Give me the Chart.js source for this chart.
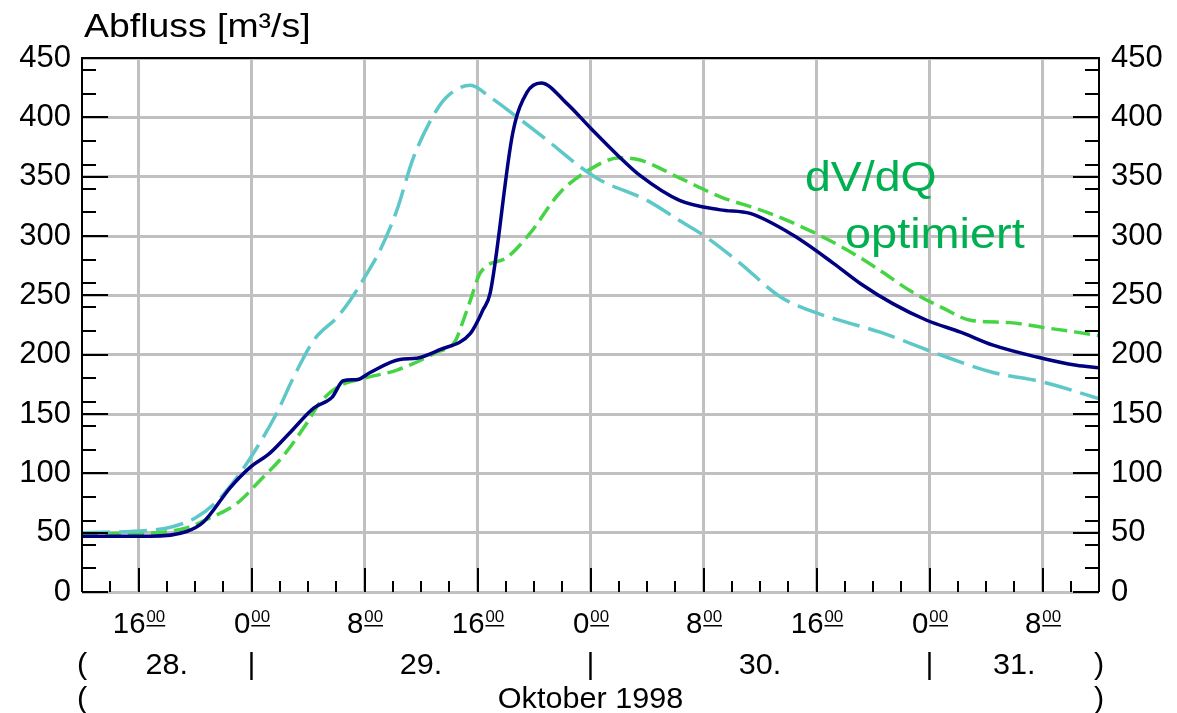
<!DOCTYPE html>
<html><head><meta charset="utf-8">
<script src="https://cdn.jsdelivr.net/npm/chart.js@4/dist/chart.umd.min.js"></script>
<style>html,body{margin:0;padding:0;background:#fff;overflow:hidden}</style>
</head><body>
<canvas id="c" width="1177" height="713"></canvas>
<script>
// hours after 28.10.1998 12:00
const obsHours = [0, 4.8, 7.4, 8.6, 10.5, 11.9, 13.3, 14.7, 16.4, 17.7, 18.5, 19.5, 20.4, 22.5, 23.7, 25.3, 27.5, 28.4, 28.9, 30.5, 31.5, 32.5, 34.3, 36.0, 38.1, 39.5, 42.3, 45.2, 47.3, 50.3, 53.2, 55.1, 57.4, 59.8, 62.2, 64.5, 67.6, 70.4, 72];
const obsFlow  = [47, 47, 51, 59, 88, 105, 117, 134, 155, 164, 178, 179, 185, 196, 197, 204, 218, 238, 252, 387, 421, 429, 412, 391, 366, 351, 330, 322, 319, 301, 277, 260, 243, 229, 219, 208, 198, 191, 189];
const cyanHours = [0, 4.8, 6.4, 8.1, 9.6, 11.0, 12.4, 13.8, 14.9, 16.4, 18.1, 19.0, 19.9, 21.1, 22.3, 23.4, 24.8, 25.8, 27.5, 28.9, 30.5, 32.9, 35.3, 36.7, 40.0, 42.3, 44.2, 46.6, 49.4, 51.8, 54.2, 56.5, 60.5, 64.5, 68.0, 72];
const cyanFlow  = [50, 52, 55, 63, 77, 97, 122, 151, 179, 212, 232, 246, 263, 288, 322, 364, 400, 417, 427, 417, 403, 381, 358, 347, 330, 313, 299, 277, 249, 236, 227, 219, 201, 185, 177, 163];
const greenHours = [0, 5.3, 7.4, 8.8, 11.0, 12.6, 14.2, 15.9, 16.8, 18.3, 19.9, 22.3, 25.1, 26.4, 27.0, 27.5, 28.2, 30.1, 31.7, 33.8, 35.8, 38.1, 39.5, 42.3, 45.2, 48.5, 51.8, 54.2, 56.5, 58.6, 61.0, 62.9, 65.7, 68.0, 70.4, 72];
const greenFlow  = [49, 50, 54, 61, 75, 94, 114, 142, 159, 174, 180, 187, 202, 211, 229, 246, 269, 282, 302, 336, 355, 366, 364, 349, 333, 320, 303, 288, 271, 254, 239, 229, 227, 223, 219, 216];

const majorHours = [4, 12, 20, 28, 36, 44, 52, 60, 68];
const hourLabels = ['16', '0', '8', '16', '0', '8', '16', '0', '8'];
const minorHours = [0,2,4,6,8,10,12,14,16,18,20,22,24,26,28,30,32,34,36,38,40,42,44,46,48,50,52,54,56,58,60,62,64,66,68,70,72];
const dayHours = [6, 24, 48, 66];
const dayLabels = ['28.', '29.', '30.', '31.'];
const dayBreaks = [12, 36, 60];
const yMajor = [0, 50, 100, 150, 200, 250, 300, 350, 400, 450];
const yMinor = [20, 40, 60, 80, 120, 140, 160, 180, 220, 240, 260, 280, 320, 340, 360, 380, 420, 440];

const FONT = '"Liberation Sans", Arial, sans-serif';
function pts(h, v) { return h.map((x, i) => ({x: x, y: v[i]})); }

function txt(ctx, s, x, y, size, align, color, sx) {
  ctx.save();
  ctx.font = size + 'px ' + FONT;
  ctx.fillStyle = color;
  ctx.textBaseline = 'alphabetic';
  ctx.textAlign = 'left';
  const w = ctx.measureText(s).width * sx;
  const x0 = align === 'center' ? x - w / 2 : (align === 'right' ? x - w : x);
  ctx.translate(x0, y);
  ctx.scale(sx, 1);
  ctx.fillText(s, 0, 0);
  ctx.restore();
  return w;
}

const deco = {
  id: 'deco',
  afterDraw(chart) {
    const ctx = chart.ctx, a = chart.chartArea;
    const xs = chart.scales.x, ys = chart.scales.y;
    ctx.save();
    ctx.strokeStyle = '#000';
    ctx.lineWidth = 2;
    ctx.beginPath();
    ctx.moveTo(a.left, a.bottom); ctx.lineTo(a.left, a.top); ctx.lineTo(a.right, a.top); ctx.lineTo(a.right, a.bottom);
    ctx.stroke();
    ctx.beginPath();
    yMajor.forEach(v => { const p = Math.round(ys.getPixelForValue(v));
      ctx.moveTo(a.left, p); ctx.lineTo(a.left + 26, p);
      ctx.moveTo(a.right, p); ctx.lineTo(a.right - 26, p); });
    yMinor.forEach(v => { const p = Math.round(ys.getPixelForValue(v));
      ctx.moveTo(a.left, p); ctx.lineTo(a.left + 14, p);
      ctx.moveTo(a.right, p); ctx.lineTo(a.right - 14, p); });
    minorHours.forEach(h => { const p = Math.round(xs.getPixelForValue(h));
      const len = majorHours.includes(h) ? 24 : 11;
      ctx.moveTo(p, a.bottom); ctx.lineTo(p, a.bottom - len); });
    ctx.stroke();

    // title
    txt(ctx, 'Abfluss [m³/s]', 84, 37, 34, 'left', '#000', 1.1);

    // hour labels with underlined superscript 00
    majorHours.forEach((h, i) => {
      const p = xs.getPixelForValue(h);
      ctx.save(); ctx.font = '30px ' + FONT; const w1 = ctx.measureText(hourLabels[i]).width * 0.98;
      ctx.font = '16px ' + FONT; const w2 = ctx.measureText('00').width * 1.05; ctx.restore();
      const x0 = p - (w1 + w2) / 2;
      txt(ctx, hourLabels[i], x0, 633, 30, 'left', '#000', 0.98);
      txt(ctx, '00', x0 + w1 + 1, 622, 16, 'left', '#000', 1.05);
      ctx.fillStyle = '#000';
      ctx.fillRect(x0 + w1 + 1, 625, w2, 1.5);
    });

    // day row
    const r2 = 674;
    txt(ctx, '(', xs.getPixelForValue(0), r2, 30, 'center', '#000', 1.02);
    txt(ctx, ')', xs.getPixelForValue(72), r2, 30, 'center', '#000', 1.02);
    dayHours.forEach((h, i) => txt(ctx, dayLabels[i], xs.getPixelForValue(h), r2, 30, 'center', '#000', 1.02));
    dayBreaks.forEach(h => txt(ctx, '|', xs.getPixelForValue(h), r2, 30, 'center', '#000', 1.02));
    // month row
    const r3 = 708;
    txt(ctx, '(', xs.getPixelForValue(0), r3, 30, 'center', '#000', 1.02);
    txt(ctx, ')', xs.getPixelForValue(72), r3, 30, 'center', '#000', 1.02);
    txt(ctx, 'Oktober 1998', xs.getPixelForValue(36), r3, 30, 'center', '#000', 1.02);

    // label
    txt(ctx, 'dV/dQ', 805, 191, 43, 'left', '#00b050', 1.08);
    txt(ctx, 'optimiert', 845, 248, 43, 'left', '#00b050', 1.09);
    ctx.restore();
  }
};

new Chart(document.getElementById('c'), {
  type: 'line',
  data: { datasets: [
    { label: 'gemessen', data: pts(obsHours, obsFlow), borderColor: '#000080', borderWidth: 3.5, pointRadius: 0, cubicInterpolationMode: 'monotone', fill: false },
    { label: 'Variante', data: pts(cyanHours, cyanFlow), borderColor: '#5ec8c8', borderWidth: 3.5, borderDash: [28, 9], pointRadius: 0, cubicInterpolationMode: 'monotone', fill: false },
    { label: 'dV/dQ optimiert', data: pts(greenHours, greenFlow), borderColor: '#44d444', borderWidth: 3.5, borderDash: [16, 7], pointRadius: 0, cubicInterpolationMode: 'monotone', fill: false }
  ]},
  options: {
    responsive: false, animation: false,
    layout: { padding: { top: 58, left: 0, right: 0, bottom: 0 } },
    plugins: { legend: { display: false }, tooltip: { enabled: false }, title: { display: false } },
    scales: {
      x: { type: 'linear', min: 0, max: 72,
        afterBuildTicks: s => { s.ticks = majorHours.map(v => ({ value: v })); },
        ticks: { display: false },
        grid: { color: '#c0c0c0', lineWidth: 3, drawTicks: false },
        border: { display: false },
        afterFit: s => { s.height = 121; } },
      y: { type: 'linear', position: 'left', min: 0, max: 450,
        afterBuildTicks: s => { s.ticks = yMajor.map(v => ({ value: v })); },
        ticks: { color: '#000', font: { size: 31, family: FONT }, padding: 11 },
        grid: { color: '#c0c0c0', lineWidth: 3, drawTicks: false },
        border: { display: false },
        afterFit: s => { s.width = 82; } },
      y2: { type: 'linear', position: 'right', min: 0, max: 450,
        afterBuildTicks: s => { s.ticks = yMajor.map(v => ({ value: v })); },
        ticks: { color: '#000', font: { size: 31, family: FONT }, padding: 12 },
        grid: { display: false, drawTicks: false },
        border: { display: false },
        afterFit: s => { s.width = 78; } }
    }
  },
  plugins: [deco]
});
</script>
</body></html>
